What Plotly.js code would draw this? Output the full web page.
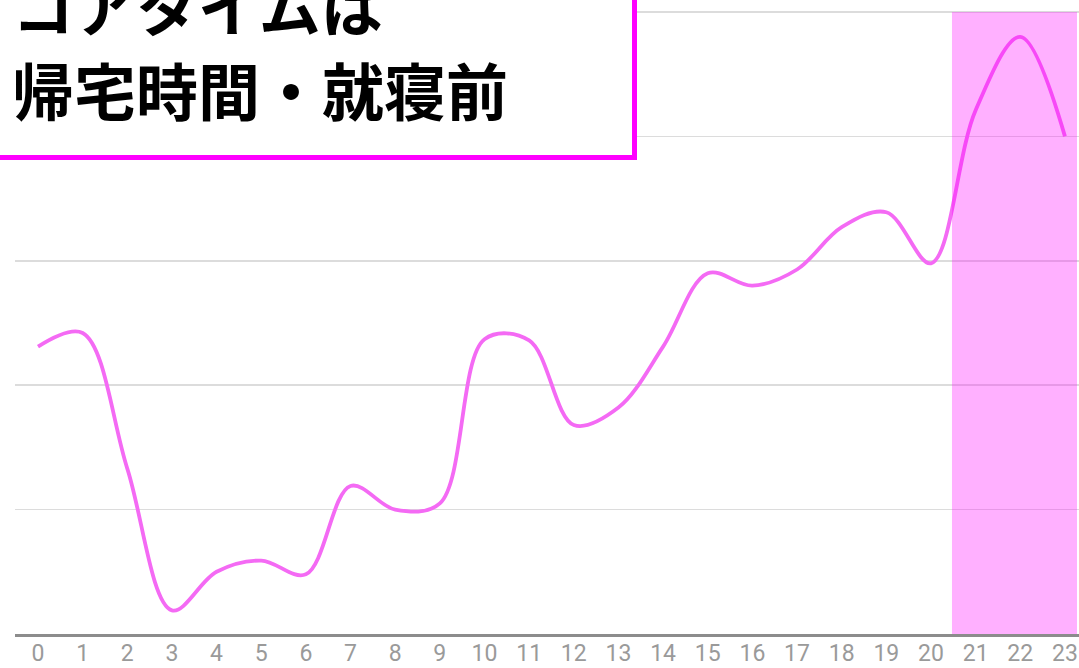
<!DOCTYPE html>
<html>
<head>
<meta charset="utf-8">
<script src="https://cdn.plot.ly/plotly-3.0.1.min.js"></script>
<style>html,body{margin:0;padding:0;background:#fff;}#chart{width:1079px;height:668px;}</style>
</head>
<body>
<div id="chart"></div>
<script>
// Hours of the day (categories)
const hours = [0,1,2,3,4,5,6,7,8,9,10,11,12,13,14,15,16,17,18,19,20,21,22,23];
const tickLabels = hours.map(String);
// Activity level (unlabelled y scale)
const activity = [2.31,2.42,1.33,0.19,0.50,0.59,0.48,1.19,1.00,1.05,2.37,2.36,1.68,1.82,2.31,2.90,2.80,2.93,3.27,3.39,2.98,4.21,4.80,4.00];
// Highlighted core-time band (hours)
const bandStart = 20.47;
const bandEnd = 23.27;
const titleLines = ["コアタイムは", "帰宅時間・就寝前"];

const W = 1079, H = 668, mL = 15, mR = 0, mT = 10, mB = 34;
const pw = W - mL - mR, ph = H - mT - mB;
const px = x => (x - mL) / pw;
const py = y => (H - mB - y) / ph;

const trace = {
  x: hours, y: activity, type: 'scatter', mode: 'lines',
  line: {color: '#f46af4', width: 3.8, shape: 'spline', smoothing: 1},
  hoverinfo: 'skip', showlegend: false
};

const layout = {
  width: W, height: H,
  margin: {l: mL, r: mR, t: mT, b: mB, pad: 0},
  paper_bgcolor: '#fff', plot_bgcolor: '#fff',
  showlegend: false,
  xaxis: {
    range: [-0.515, 23.315], tickvals: hours, ticktext: tickLabels,
    showgrid: false, zeroline: false, showline: true, linecolor: '#8c8c8c', linewidth: 2.5,
    ticks: '', ticklabelstandoff: -3,
    tickfont: {family: 'Roboto, sans-serif', size: 23, color: '#9a9a9a'},
    fixedrange: true
  },
  yaxis: {
    range: [0, 5.016], dtick: 1, tick0: 0, showticklabels: false, ticks: '',
    showgrid: true, gridcolor: '#dcdcdc', gridwidth: 1.5, zeroline: false, showline: false,
    fixedrange: true
  },
  shapes: [
    {type: 'rect', xref: 'x', yref: 'y', x0: bandStart, x1: bandEnd, y0: 0, y1: 5,
     fillcolor: 'rgba(255,0,255,0.31)', line: {width: 0}, layer: 'above'},
    {type: 'rect', xref: 'paper', yref: 'paper', x0: px(-10), x1: px(634.5), y0: py(157.5), y1: py(-10),
     fillcolor: '#ffffff', line: {color: '#ff00ff', width: 5}, layer: 'above'}
  ],
  annotations: [
    {xref: 'paper', yref: 'paper', x: px(10), y: py(5), xanchor: 'left', yanchor: 'middle',
     text: '<b>' + titleLines[0] + '</b>', showarrow: false,
     font: {family: '"Noto Sans CJK JP", sans-serif', size: 62, color: '#000'}},
    {xref: 'paper', yref: 'paper', x: px(10), y: py(89), xanchor: 'left', yanchor: 'middle',
     text: '<b>' + titleLines[1] + '</b>', showarrow: false,
     font: {family: '"Noto Sans CJK JP", sans-serif', size: 62, color: '#000'}}
  ]
};

Plotly.newPlot('chart', [trace], layout, {displayModeBar: false, staticPlot: true});
</script>
</body>
</html>
